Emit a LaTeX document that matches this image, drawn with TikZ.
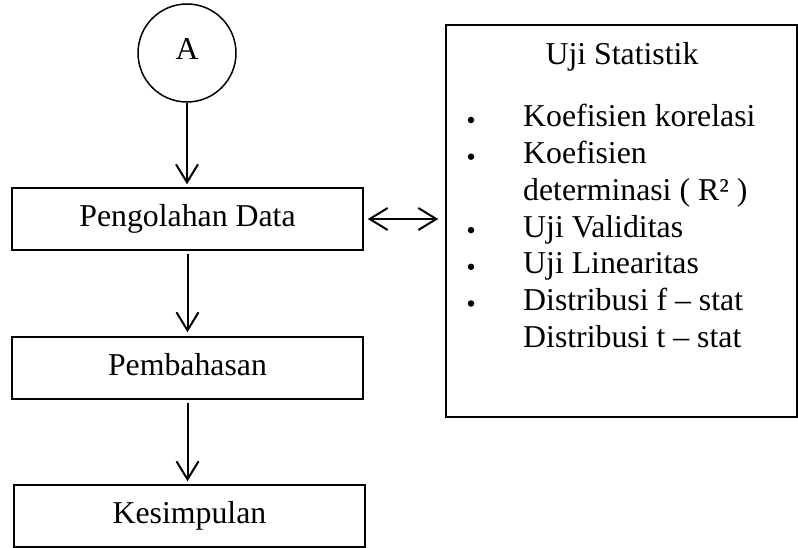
\documentclass[tikz,border=0pt]{standalone}
\usepackage{fontspec}
\setmainfont{Liberation Serif}
\usetikzlibrary{arrows.meta}
\begin{document}
\begin{tikzpicture}[x=1pt,y=-1pt,
  txt/.style={font=\fontsize{31.8}{36.7}\selectfont},
  box/.style={txt,draw,line width=1.5pt,minimum width=351pt,minimum height=62pt,inner sep=0pt,text height=22pt,text depth=7pt},
  tip/.tip={Straight Barb[length=18pt,width=22pt,line width=2pt]},
  conn/.style={line width=2pt,-tip},
  biconn/.style={line width=2pt,tip-tip},
  item/.style={txt,anchor=base west,inner sep=0pt},
  dot/.style={circle,fill,inner sep=0pt,minimum size=6.5pt}
]
\useasboundingbox (0,0) rectangle (798,548);
\node[circle,draw,line width=1.5pt,minimum size=98pt,inner sep=0pt,txt,text height=21pt,text depth=8pt] (A) at (187,53) {A};
\node[box] (pd) at (187.5,219) {Pengolahan Data};
\node[box] (pb) at (187.5,368) {Pembahasan};
\node[box] (ks) at (189.5,516) {Kesimpulan};
\node[draw,line width=1.5pt,minimum width=351pt,minimum height=392pt,inner sep=0pt] (st) at (621.5,221) {};
\node[txt,anchor=base,inner sep=0pt] (title) at (622,65) {Uji Statistik};
\node[item] (i1) at (523,127) {Koefisien korelasi};
\node[item] (i2) at (523,163.7) {Koefisien};
\node[item] (i2b) at (523,200.4) {determinasi ( R² )};
\node[item] (i3) at (523,237.1) {Uji Validitas};
\node[item] (i4) at (523,273.8) {Uji Linearitas};
\node[item] (i5) at (523,310.5) {Distribusi f – stat};
\node[item] (i6) at (523,347.2) {Distribusi t – stat};
\node[dot] (d1) at (471,120) {};
\node[dot] (d2) at (471,156.7) {};
\node[dot] (d3) at (471,230.1) {};
\node[dot] (d4) at (471,266.8) {};
\node[dot] (d5) at (471,303.5) {};
\draw[conn] (A.south) -- ([yshift=3pt]pd.north -| A.south);
\draw[conn] ([yshift=-3pt]pd.south) -- ([yshift=4pt]pb.north);
\draw[conn] ([yshift=-3pt]pb.south) -- ([yshift=3pt,xshift=-2pt]ks.north);
\draw[biconn] ([xshift=4pt]pd.east) -- ([xshift=-7pt]pd.east -| st.west);
\end{tikzpicture}
\end{document}
